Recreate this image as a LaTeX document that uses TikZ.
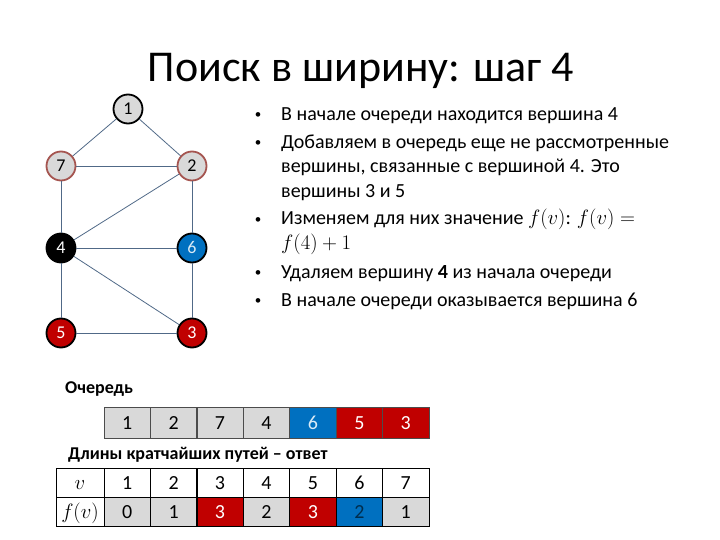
\documentclass[tikz,border=0pt]{standalone}
\usepackage{fontspec}
\setmainfont{Carlito}
\usepackage{xcolor}
\usepackage{tikz}

\definecolor{cellgray}{RGB}{217,217,217}
\definecolor{hotred}{RGB}{192,0,0}
\definecolor{qblue}{RGB}{0,112,192}
\definecolor{edgeblue}{RGB}{80,105,135}
\definecolor{seenrim}{RGB}{165,85,80}

\begin{document}
\begin{tikzpicture}[x=1pt,y=-1pt,
  vert/.style={circle,draw,line width=1.8pt,minimum size=29pt,inner sep=0pt,text height=11pt,text depth=0pt,font=\fontsize{18}{18}\selectfont},
  edge/.style={edgeblue,line width=0.8pt},
  txt/.style={anchor=base west,inner sep=0pt,font=\fontsize{20}{24}\selectfont},
  dot/.style={anchor=base,inner sep=0pt,font=\fontsize{13}{13}\selectfont},
  cell/.style={draw,line width=0.7pt,minimum width=46.4pt,minimum height=30pt,inner sep=0pt,text height=13pt,text depth=0pt,font=\fontsize{20}{20}\selectfont}]
\useasboundingbox (0,0) rectangle (720,540);

\node[anchor=base,font=\fontsize{44}{44}\selectfont] (title) at (361,82) {Поиск в ширину: шаг 4};

% graph
\node[vert,fill=cellgray] (v1) at (128,109) {1};
\node[vert,fill=cellgray,draw=seenrim] (v7) at (61,166) {7};
\node[vert,fill=cellgray,draw=seenrim] (v2) at (192,166) {2};
\node[vert,fill=black,text=white] (v4) at (61,248) {4};
\node[vert,fill=qblue,text=white!85!qblue] (v6) at (192,248) {6};
\node[vert,fill=hotred,text=white] (v5) at (61,333) {5};
\node[vert,fill=hotred,text=white] (v3) at (192,333) {3};
\draw[edge] (v1) -- (v7);
\draw[edge] (v1) -- (v2);
\draw[edge] (v7) -- (v2);
\draw[edge] (v7) -- (v4);
\draw[edge] (v2) -- (v4);
\draw[edge] (v2) -- (v6);
\draw[edge] (v4) -- (v6);
\draw[edge] (v4) -- (v5);
\draw[edge] (v4) -- (v3);
\draw[edge] (v6) -- (v3);
\draw[edge] (v5) -- (v3);

% bullets
\node[dot] (d1) at (258,119) {•};
\node[txt] (t1) at (281,121) {В начале очереди находится вершина 4};
\node[dot] (d2) at (258,147) {•};
\node[txt] (t2a) at (281,149) {Добавляем в очередь еще не рассмотренные};
\node[txt] (t2b) at (281,173) {вершины, связанные с вершиной 4. Это};
\node[txt] (t2c) at (281,197) {вершины 3 и 5};
\node[dot] (d3) at (258,223) {•};
\node[txt] (t3a) at (281,225) {Изменяем для них значение $f(v)$: $f(v) =$};
\node[txt] (t3b) at (281,249) {$f(4)+1$};
\node[dot] (d4) at (258,276) {•};
\node[txt] (t4) at (281,278) {Удаляем вершину \textbf{4} из начала очереди};
\node[dot] (d5) at (258,304) {•};
\node[txt] (t5) at (281,306) {В начале очереди оказывается вершина 6};

% queue
\node[anchor=base west,inner sep=0pt,font=\fontsize{18}{18}\selectfont\bfseries] (qlabel) at (65,393) {Очередь};
\foreach \v/\f/\t [count=\i] in {1/cellgray/black,2/cellgray/black,7/cellgray/black,4/cellgray/black,6/qblue/white!85!qblue,5/hotred/white,3/hotred/white}
  \node[cell,draw=black!70,fill=\f,text=\t,minimum height=31pt] (q\i) at ({127.2+46.43*(\i-1)},422.5) {\v};

% answer table
\node[anchor=base west,inner sep=0pt,font=\fontsize{18}{18}\selectfont\bfseries] (alabel) at (68,459) {Длины кратчайших путей – ответ};
\node[cell,minimum width=48pt,minimum height=29pt] (hv) at (80,482.5) {$v$};
\node[cell,minimum width=48pt,minimum height=29pt] (hf) at (80,511.5) {$f(v)$};
\foreach \d/\f/\t [count=\i] in {0/cellgray/black,1/cellgray/black,3/hotred/white,2/cellgray/black,3/hotred/white,2/qblue/black!60!qblue,1/cellgray/black}{
  \node[cell,minimum height=29pt] (n\i) at ({127.2+46.43*(\i-1)},482.5) {\i};
  \node[cell,fill=\f,text=\t,minimum height=29pt] (f\i) at ({127.2+46.43*(\i-1)},511.5) {\d};
}
\end{tikzpicture}
\end{document}
